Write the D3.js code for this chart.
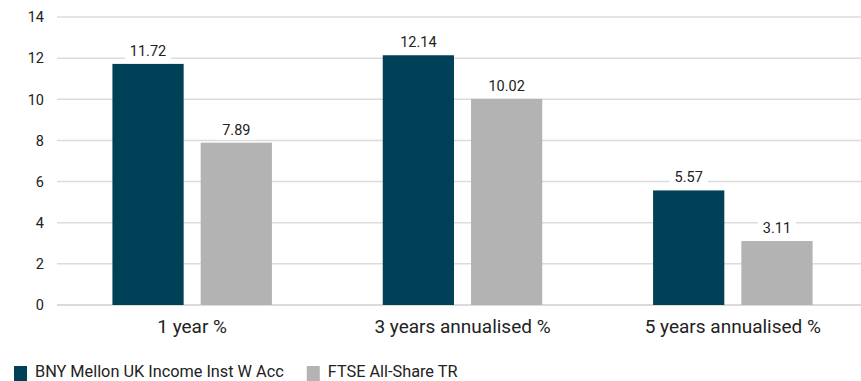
<!DOCTYPE html>
<html>
<head>
<meta charset="utf-8">
<script src="https://cdn.jsdelivr.net/npm/d3@7"></script>
<style>
  body { margin: 0; background: #fff; }
  text { font-family: Roboto, "Liberation Sans", sans-serif; fill: #222; }
</style>
</head>
<body>
<div id="chart"></div>
<script>
// data
const categories = ["1 year %", "3 years annualised %", "5 years annualised %"];
const seriesNames = ["BNY Mellon UK Income Inst W Acc", "FTSE All-Share TR"];
const fundValues = [11.72, 12.14, 5.57];
const indexValues = [7.89, 10.02, 3.11];
const yTicks = [0, 2, 4, 6, 8, 10, 12, 14];
const colors = ["#004157", "#b3b3b3"];

const W = 861, H = 381;
const margin = { top: 17, left: 57, bottom: 76 };
const plotW = 811; // runs past the right edge like the source
const plotH = H - margin.top - margin.bottom;

const svg = d3.select("#chart").append("svg")
  .attr("width", W).attr("height", H);

const rows = categories.map((c, i) => ({ cat: c, vals: [fundValues[i], indexValues[i]] }));

const x0 = d3.scaleBand().domain(categories).range([0, plotW]).paddingInner(0.41).paddingOuter(0.205);
const x1 = d3.scaleBand().domain([0, 1]).range([0, x0.bandwidth()]).paddingInner(0.193);
const y = d3.scaleLinear().domain([0, 14]).range([plotH, 0]);

const g = svg.append("g").attr("transform", `translate(${margin.left},${margin.top})`);

// gridlines
g.selectAll(".grid").data(yTicks).join("line")
  .attr("x1", 0).attr("x2", plotW)
  .attr("y1", d => y(d)).attr("y2", d => y(d))
  .attr("stroke", d => d === 0 ? "#cfcfcf" : "#dcdcdc").attr("stroke-width", 1.5);

// y axis labels
g.selectAll(".ytick").data(yTicks).join("text")
  .attr("x", -13).attr("y", d => y(d)).attr("dy", "0.36em")
  .attr("text-anchor", "end").style("font-size", "14.5px")
  .text(d => d);

// bars
const groups = g.selectAll(".grp").data(rows).join("g")
  .attr("transform", d => `translate(${x0(d.cat)},0)`);

groups.selectAll("rect").data(d => d.vals).join("rect")
  .attr("x", (d, i) => x1(i)).attr("width", x1.bandwidth())
  .attr("y", d => y(d)).attr("height", d => plotH - y(d))
  .attr("fill", (d, i) => colors[i]);

// value labels with white backing
groups.each(function(row) {
  const grp = d3.select(this);
  row.vals.forEach((v, i) => {
    const cx = x1(i) + x1.bandwidth() / 2;
    const t = grp.append("text")
      .attr("x", cx).attr("y", y(v) - 8)
      .attr("text-anchor", "middle").style("font-size", "14.5px")
      .text(v.toFixed(2));
    const bb = t.node().getBBox();
    grp.insert("rect", "text")
      .attr("x", bb.x - 5).attr("y", bb.y - 1)
      .attr("width", bb.width + 10).attr("height", bb.height + 2)
      .attr("fill", "#fff");
  });
});

// category labels
g.selectAll(".cat").data(categories).join("text")
  .attr("x", d => x0(d) + x0.bandwidth() / 2).attr("y", plotH + 28)
  .attr("text-anchor", "middle").style("font-size", "19px")
  .text(d => d);

// legend
const legend = svg.append("g").attr("transform", `translate(14,364)`);
let lx = 0;
seriesNames.forEach((name, i) => {
  legend.append("rect").attr("x", lx).attr("y", 2).attr("width", 13).attr("height", 15).attr("fill", colors[i]);
  const t = legend.append("text").attr("x", lx + 21).attr("y", 13)
    .style("font-size", "16.3px")
    .text(name);
  lx += 21 + t.node().getComputedTextLength() + 23;
});
</script>
</body>
</html>
